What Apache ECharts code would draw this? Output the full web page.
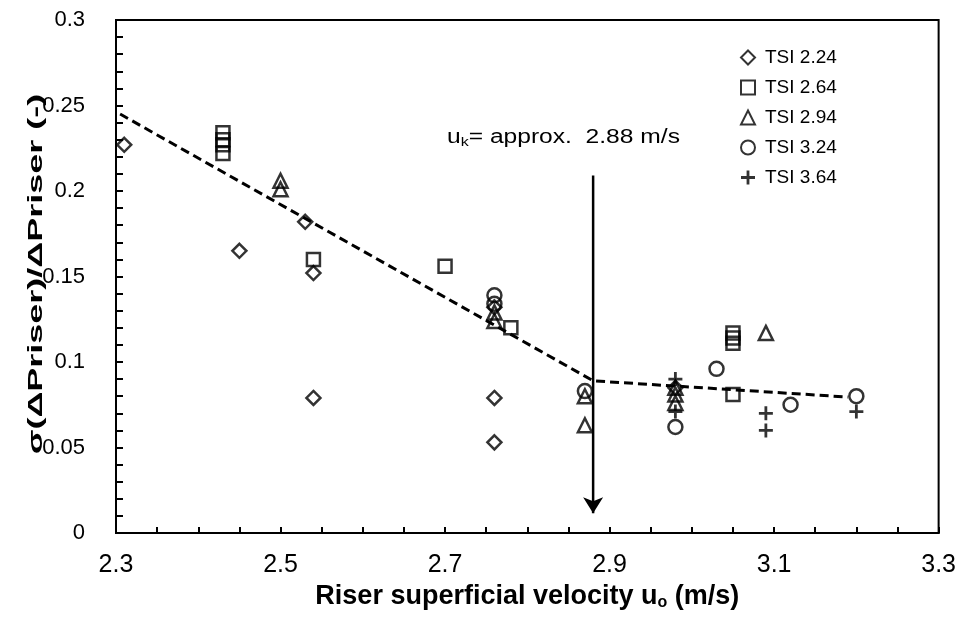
<!DOCTYPE html>
<html>
<head>
<meta charset="utf-8">
<script src="https://cdn.jsdelivr.net/npm/echarts@6/dist/echarts.min.js"></script>
<style>
  html, body { margin: 0; padding: 0; background: #fff; }
  #chart { width: 959px; height: 617px; }
</style>
</head>
<body>
<div id="chart"></div>
<script>
// Pressure-fluctuation measurements, [velocity (m/s), sigma/mean (-)]
const tsi224 = [[2.31, 0.227], [2.45, 0.165], [2.53, 0.182], [2.54, 0.152], [2.54, 0.079],
                [2.76, 0.132], [2.76, 0.079], [2.76, 0.053], [2.98, 0.085]];
const tsi264 = [[2.43, 0.234], [2.43, 0.230], [2.43, 0.227], [2.43, 0.222], [2.54, 0.160],
                [2.70, 0.156], [2.78, 0.120], [3.05, 0.117], [3.05, 0.114], [3.05, 0.111],
                [3.05, 0.081]];
const tsi294 = [[2.50, 0.206], [2.50, 0.201], [2.76, 0.129], [2.76, 0.124], [2.87, 0.080],
                [2.87, 0.063], [2.98, 0.085], [2.98, 0.081], [2.98, 0.076], [3.09, 0.117]];
const tsi324 = [[2.76, 0.139], [2.76, 0.134], [2.87, 0.083], [2.98, 0.062], [3.03, 0.096],
                [3.12, 0.075], [3.20, 0.080]];
const tsi364 = [[2.98, 0.090], [2.98, 0.071], [3.09, 0.070], [3.09, 0.060], [3.20, 0.071]];

// Two-segment trend with the knee at the transition velocity
const trendX = [2.305, 2.88, 3.19];
const trendY = [0.245, 0.089, 0.0795];

// Transition velocity marker
const ukValue = 2.88;
const arrowY = [0.209, 0.0115];

const seriesNames = ['TSI 2.24', 'TSI 2.64', 'TSI 2.94', 'TSI 3.24', 'TSI 3.64'];
const xTickLabels = ['2.3', '2.5', '2.7', '2.9', '3.1', '3.3'];
const yTickLabels = ['0', '0.05', '0.1', '0.15', '0.2', '0.25', '0.3'];

const FONT = "'Liberation Sans', Arial, sans-serif";
const hollow = { color: 'rgba(255,255,255,0)', borderColor: '#000', borderWidth: 2.5 };
const plusPath = 'path://M4,0H6V4H10V6H6V10H4V6H0V4H4Z';

function pickLabel(v, list) {
  for (const s of list) { if (Math.abs(parseFloat(s) - v) < 1e-6) return s; }
  return '';
}

function scatter(name, data, symbol, size, style) {
  return {
    name, type: 'scatter', data, symbol, symbolSize: size,
    itemStyle: style, emphasis: { disabled: true }, z: 3
  };
}

const chart = echarts.init(document.getElementById('chart'), null, { renderer: 'canvas' });
chart.setOption({
  animation: false,
  backgroundColor: '#fff',
  grid: { left: 116, top: 20, right: 20, bottom: 84, show: true, borderColor: '#000', borderWidth: 2, backgroundColor: 'transparent' },
  legend: {
    data: seriesNames,
    orient: 'vertical',
    left: 735, top: 43,
    itemWidth: 14, itemHeight: 14, itemGap: 11,
    textStyle: { fontFamily: FONT, fontSize: 19, color: '#000', padding: [0, 0, 0, 5] },
    selectedMode: false
  },
  xAxis: {
    type: 'value', min: 2.3, max: 3.3, interval: 0.05,
    axisLine: { onZero: false, lineStyle: { color: '#000', width: 2 } },
    axisTick: { inside: true, length: 6, lineStyle: { color: '#000', width: 2 } },
    splitLine: { show: false },
    axisLabel: {
      margin: 20, color: '#000', fontFamily: FONT, fontSize: 25,
      showMinLabel: true, showMaxLabel: true,
      formatter: v => pickLabel(v, xTickLabels)
    },
    name: '{a|Riser superficial velocity u}{s|o}{a| (m/s)}',
    nameLocation: 'middle', nameGap: 50,
    nameTextStyle: {
      rich: {
        a: { fontFamily: FONT, fontWeight: 'bold', fontSize: 27, color: '#000' },
        s: { fontFamily: FONT, fontWeight: 'bold', fontSize: 16, color: '#000', padding: [12, 0, 0, 0] }
      }
    }
  },
  yAxis: {
    type: 'value', min: 0, max: 0.3, interval: 0.01,
    axisLine: { onZero: false, lineStyle: { color: '#000', width: 2 } },
    axisTick: { inside: true, length: 7, lineStyle: { color: '#000', width: 2 } },
    splitLine: { show: false },
    axisLabel: {
      margin: 31, color: '#000', fontFamily: FONT, fontSize: 22,
      showMinLabel: true, showMaxLabel: true,
      formatter: v => pickLabel(v, yTickLabels)
    }
  },
  graphic: [
    {
      type: 'text', x: 36, y: 274, rotation: Math.PI / 2, scaleX: 1.8,
      style: {
        text: 'σ(ΔPriser)/ΔPriser (-)', fontFamily: FONT, fontWeight: 'bold', fontSize: 20,
        fill: '#000', align: 'center', verticalAlign: 'middle'
      }
    },
    {
      type: 'text', x: 447, y: 137, scaleX: 1.23,
      style: {
        text: '{a|u}{s|k}{a|= approx.  2.88 m/s}',
        verticalAlign: 'middle',
        rich: {
          a: { fontFamily: FONT, fontSize: 20, fill: '#000' },
          s: { fontFamily: FONT, fontSize: 13, fill: '#000', padding: [10, 0, 0, 0] }
        }
      }
    }
  ],
  series: [
    scatter(seriesNames[0], tsi224, 'diamond', 14, hollow),
    scatter(seriesNames[1], tsi264, 'rect', 13, hollow),
    scatter(seriesNames[2], tsi294, 'triangle', 14, hollow),
    scatter(seriesNames[3], tsi324, 'circle', 14, hollow),
    scatter(seriesNames[4], tsi364, plusPath, 14, { color: '#000' }),
    {
      name: 'trend', type: 'line', data: trendX.map((x, i) => [x, trendY[i]]),
      symbol: 'none', silent: true, z: 2,
      lineStyle: { color: '#000', width: 3, type: [9, 5] }
    },
    {
      name: 'uk', type: 'line', silent: true, z: 2,
      data: [
        { value: [ukValue, arrowY[0]], symbol: 'none' },
        { value: [ukValue, arrowY[1]], symbol: 'arrow', symbolRotate: 180, symbolSize: [15, 16] }
      ],
      lineStyle: { color: '#000', width: 2.5 },
      itemStyle: { color: '#000' }
    }
  ]
});
</script>
</body>
</html>
